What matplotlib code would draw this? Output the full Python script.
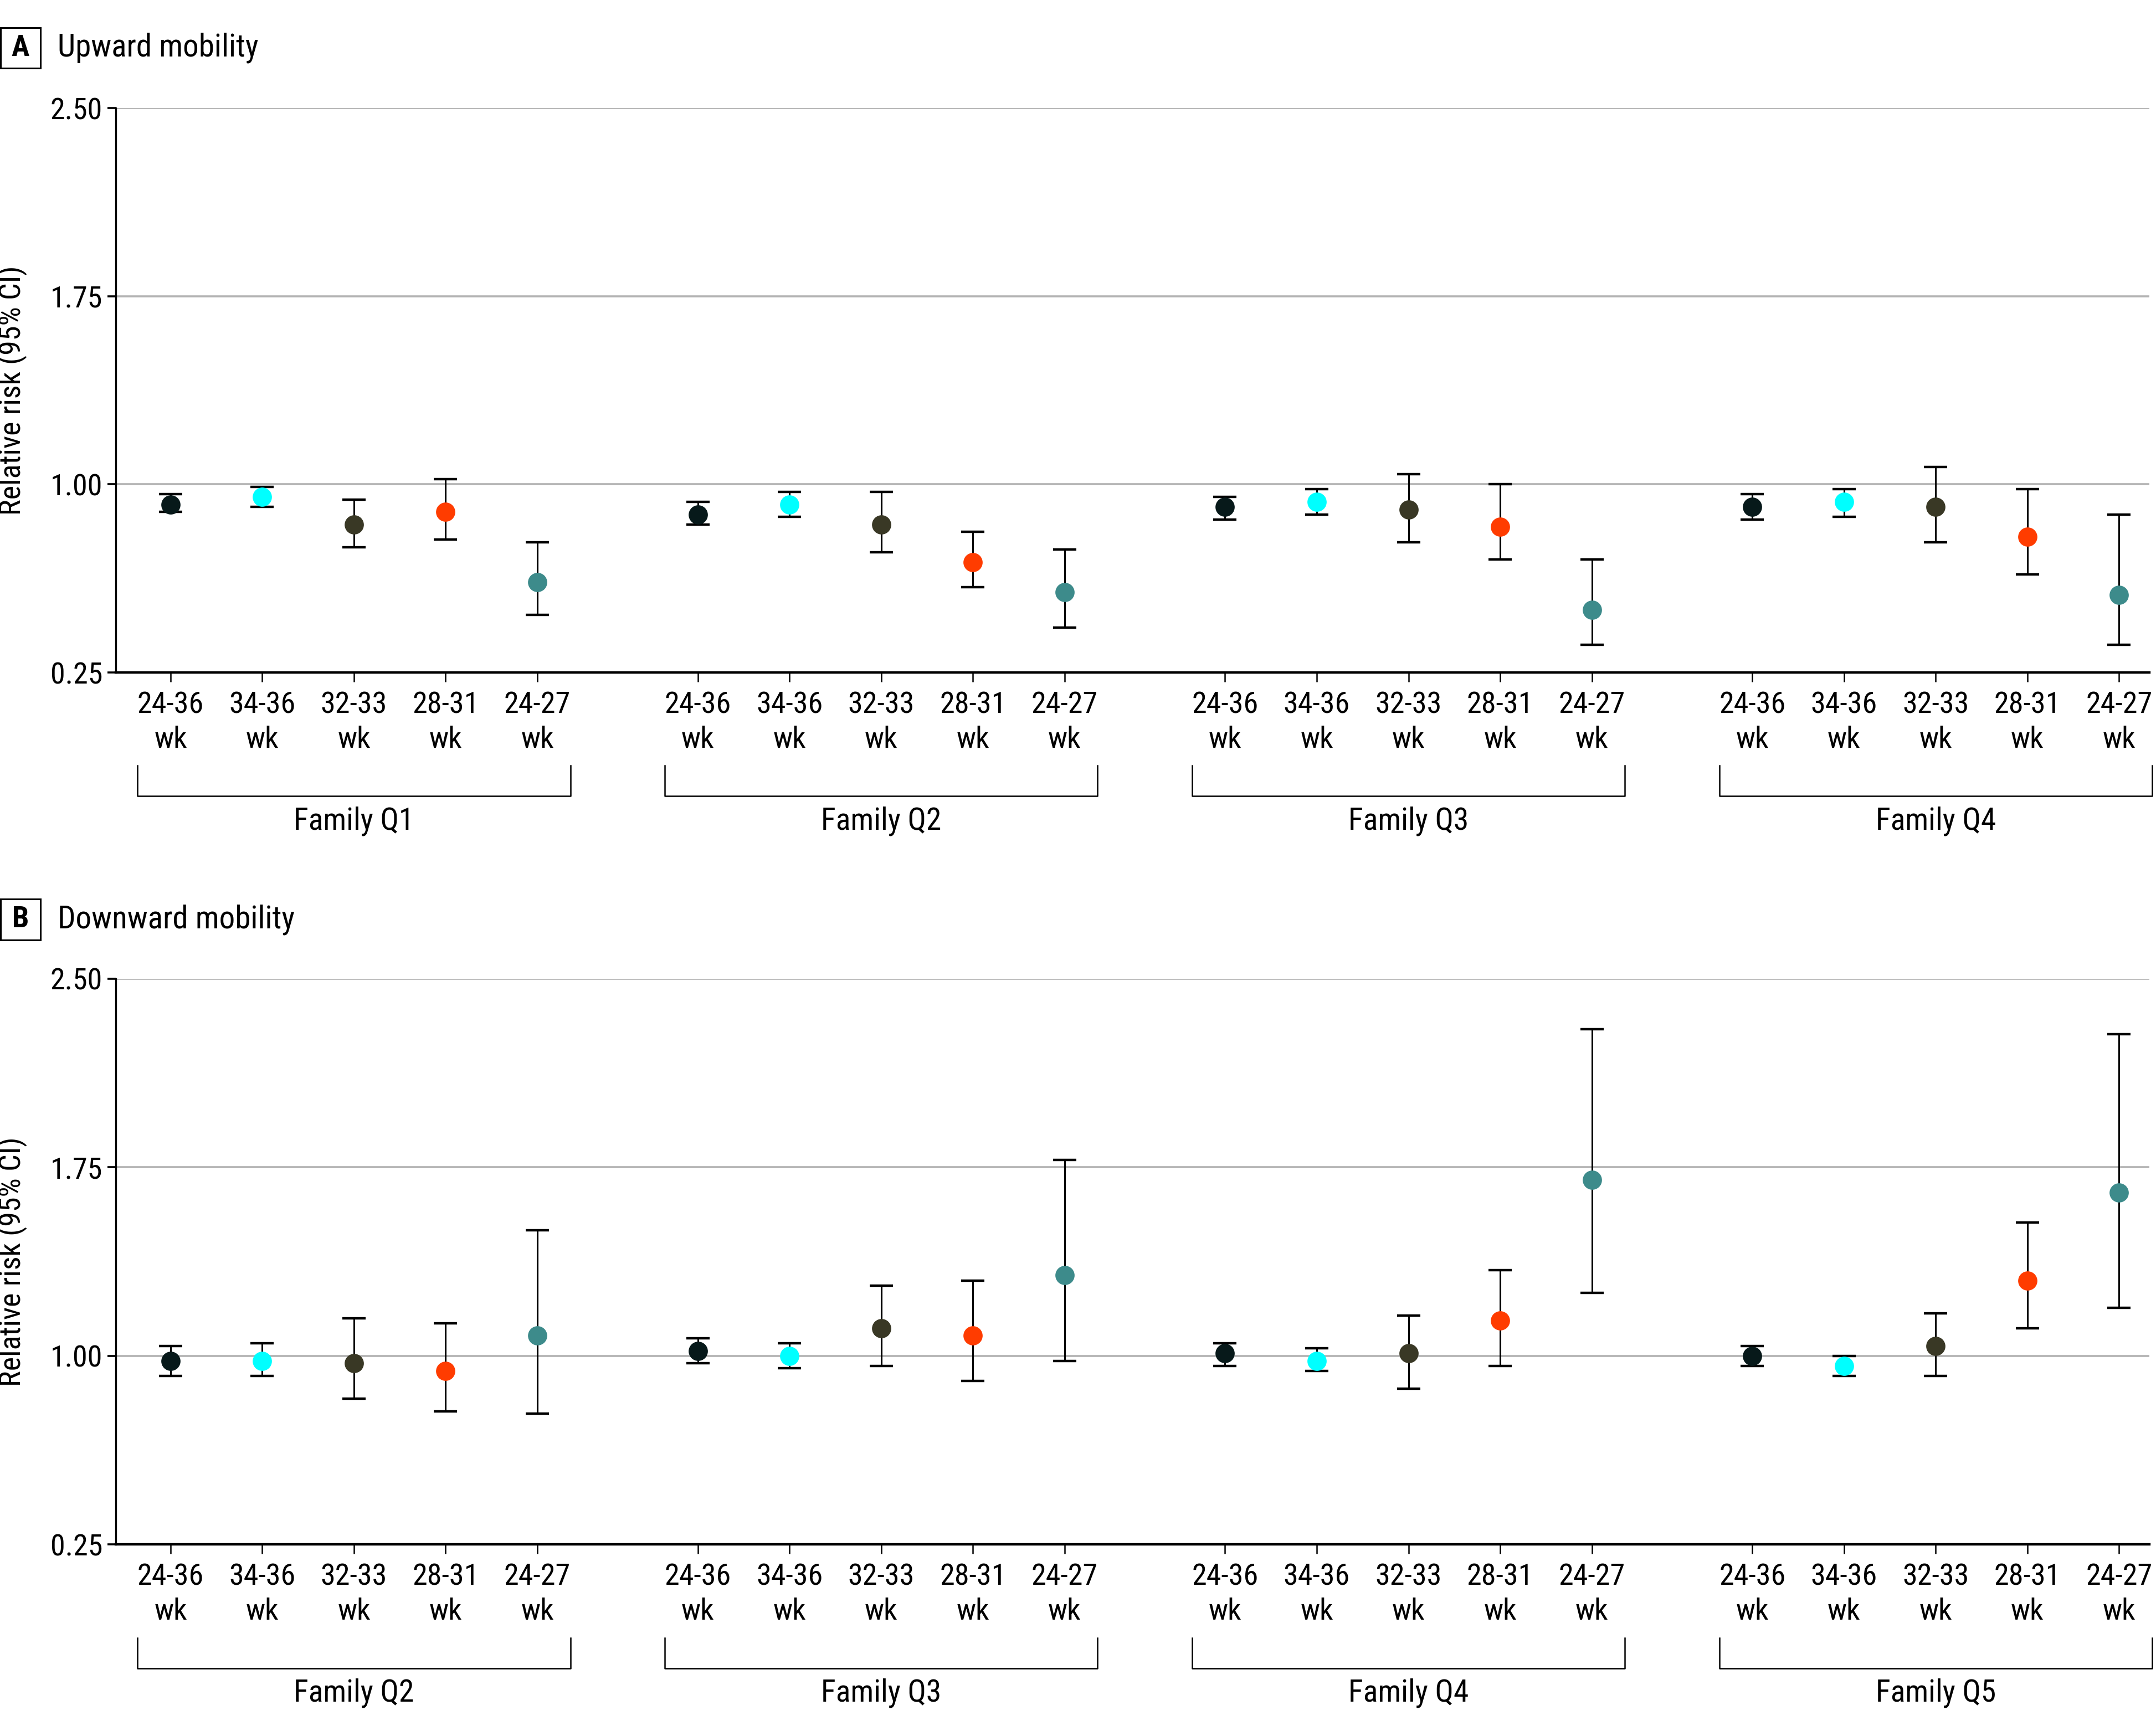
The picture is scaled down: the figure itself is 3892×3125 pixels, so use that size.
"""Relative risk of upward / downward mobility by gestational age, per family quintile."""
import matplotlib
matplotlib.use("Agg")
import matplotlib.pyplot as plt
import matplotlib.transforms as mtransforms
from matplotlib import font_manager
from matplotlib.patches import Rectangle

# pick a narrow sans if one is installed
_names = {f.name for f in font_manager.fontManager.ttflist}
FONT = next((n for n in ["Liberation Sans Narrow", "Roboto Condensed", "Open Sans Condensed",
                         "Noto Sans", "DejaVu Sans"] if n in _names), "DejaVu Sans")
plt.rcParams["font.family"] = [FONT, "DejaVu Sans"]

PERIODS = ["24-36", "34-36", "32-33", "28-31", "24-27"]
COLORS = ["#07191a", "#00ffff", "#393825", "#ff3c00", "#3d8b8b"]

UP_GROUPS = ["Family Q1", "Family Q2", "Family Q3", "Family Q4"]
UP_RR = [[0.92, 0.95, 0.84, 0.89, 0.61],
         [0.88, 0.92, 0.84, 0.69, 0.57],
         [0.91, 0.93, 0.90, 0.83, 0.50],
         [0.91, 0.93, 0.91, 0.79, 0.56]]
UP_LO = [[0.89, 0.91, 0.75, 0.78, 0.48],
         [0.84, 0.87, 0.73, 0.59, 0.43],
         [0.86, 0.88, 0.77, 0.70, 0.36],
         [0.86, 0.87, 0.77, 0.64, 0.36]]
UP_HI = [[0.96, 0.99, 0.94, 1.02, 0.77],
         [0.93, 0.97, 0.97, 0.81, 0.74],
         [0.95, 0.98, 1.04, 1.00, 0.70],
         [0.96, 0.98, 1.07, 0.98, 0.88]]

DOWN_GROUPS = ["Family Q2", "Family Q3", "Family Q4", "Family Q5"]
DOWN_RR = [[0.98, 0.98, 0.97, 0.94, 1.08],
           [1.02, 1.00, 1.11, 1.08, 1.32],
           [1.01, 0.98, 1.01, 1.14, 1.70],
           [1.00, 0.96, 1.04, 1.30, 1.65]]
DOWN_LO = [[0.92, 0.92, 0.83, 0.78, 0.77],
           [0.97, 0.95, 0.96, 0.90, 0.98],
           [0.96, 0.94, 0.87, 0.96, 1.25],
           [0.96, 0.92, 0.92, 1.11, 1.19]]
DOWN_HI = [[1.04, 1.05, 1.15, 1.13, 1.50],
           [1.07, 1.05, 1.28, 1.30, 1.78],
           [1.05, 1.03, 1.16, 1.34, 2.30],
           [1.04, 1.00, 1.17, 1.53, 2.28]]

Y_TICKS = [0.25, 1.00, 1.75, 2.50]
GROUP_STEP = 5.75
FS = 19.5


def draw_panel(ax, groups, rr, lo, hi):
    xs_all = []
    for g, name in enumerate(groups):
        for i in range(len(PERIODS)):
            x = g * GROUP_STEP + i
            xs_all.append(x)
            ax.errorbar([x], [rr[g][i]],
                        yerr=[[rr[g][i] - lo[g][i]], [hi[g][i] - rr[g][i]]],
                        fmt="none", ecolor="black", elinewidth=1.1, capsize=7.5,
                        capthick=1.6, zorder=2)
            ax.plot([x], [rr[g][i]], "o", ms=12.5, color=COLORS[i], mec="none", zorder=3)

    for y in Y_TICKS[1:]:
        ax.axhline(y, color="#b3b3b3", lw=1.3, zorder=1)
    ax.set_ylim(0.25, 2.50)
    ax.set_xlim(-0.6, 3 * GROUP_STEP + 4 + 0.33)
    ax.set_yticks(Y_TICKS, labels=[f"{t:.2f}" for t in Y_TICKS])
    ax.set_xticks(xs_all, labels=[f"{p}\nwk" for _ in groups for p in PERIODS])
    ax.tick_params(axis="x", length=6, width=0.9, pad=6, labelsize=FS)
    ax.tick_params(axis="y", length=5.5, width=1.3, pad=3, labelsize=FS)
    for lab in ax.get_xticklabels():
        lab.set_linespacing(1.3)
    for s in ("top", "right"):
        ax.spines[s].set_visible(False)
    ax.spines["left"].set_linewidth(1.2)
    ax.spines["bottom"].set_linewidth(1.6)
    ax.set_ylabel("Relative risk (95% CI)", fontsize=FS)
    ax.yaxis.set_label_coords(-0.0435, 0.5)

    # group brackets under the tick labels
    trans = mtransforms.blended_transform_factory(ax.transData, ax.transAxes)
    for g, name in enumerate(groups):
        x0 = g * GROUP_STEP - 0.36
        x1 = g * GROUP_STEP + 4 + 0.36
        ax.plot([x0, x0, x1, x1], [-0.165, -0.219, -0.219, -0.165], color="black",
                lw=0.9, transform=trans, clip_on=False)
        ax.text(g * GROUP_STEP + 2, -0.263, name, transform=trans, ha="center",
                va="center", fontsize=FS + 0.5)


def panel_label(fig, letter, title, y_top, y_bot):
    W, H = 3892, 3125
    fig.patches.append(Rectangle((1 / W, 1 - y_bot / H), 72 / W, (y_bot - y_top) / H,
                                 transform=fig.transFigure, fill=False, ec="black", lw=1.1))
    yc = 1 - (y_top + y_bot) / 2 / H
    fig.text(37 / W, yc, letter, ha="center", va="center", fontsize=FS, fontweight="bold")
    fig.text(104 / W, yc, title, ha="left", va="center", fontsize=FS + 1)


fig = plt.figure(figsize=(19.46, 15.625), dpi=200)
ax_a = fig.add_axes([0.0536, 0.6115, 0.9433, 0.3261])
ax_b = fig.add_axes([0.0536, 0.1078, 0.9433, 0.3268])
draw_panel(ax_a, UP_GROUPS, UP_RR, UP_LO, UP_HI)
draw_panel(ax_b, DOWN_GROUPS, DOWN_RR, DOWN_LO, DOWN_HI)
panel_label(fig, "A", "Upward mobility", 50, 123)
panel_label(fig, "B", "Downward mobility", 1623, 1697)

fig.savefig("out.png", dpi=200)
